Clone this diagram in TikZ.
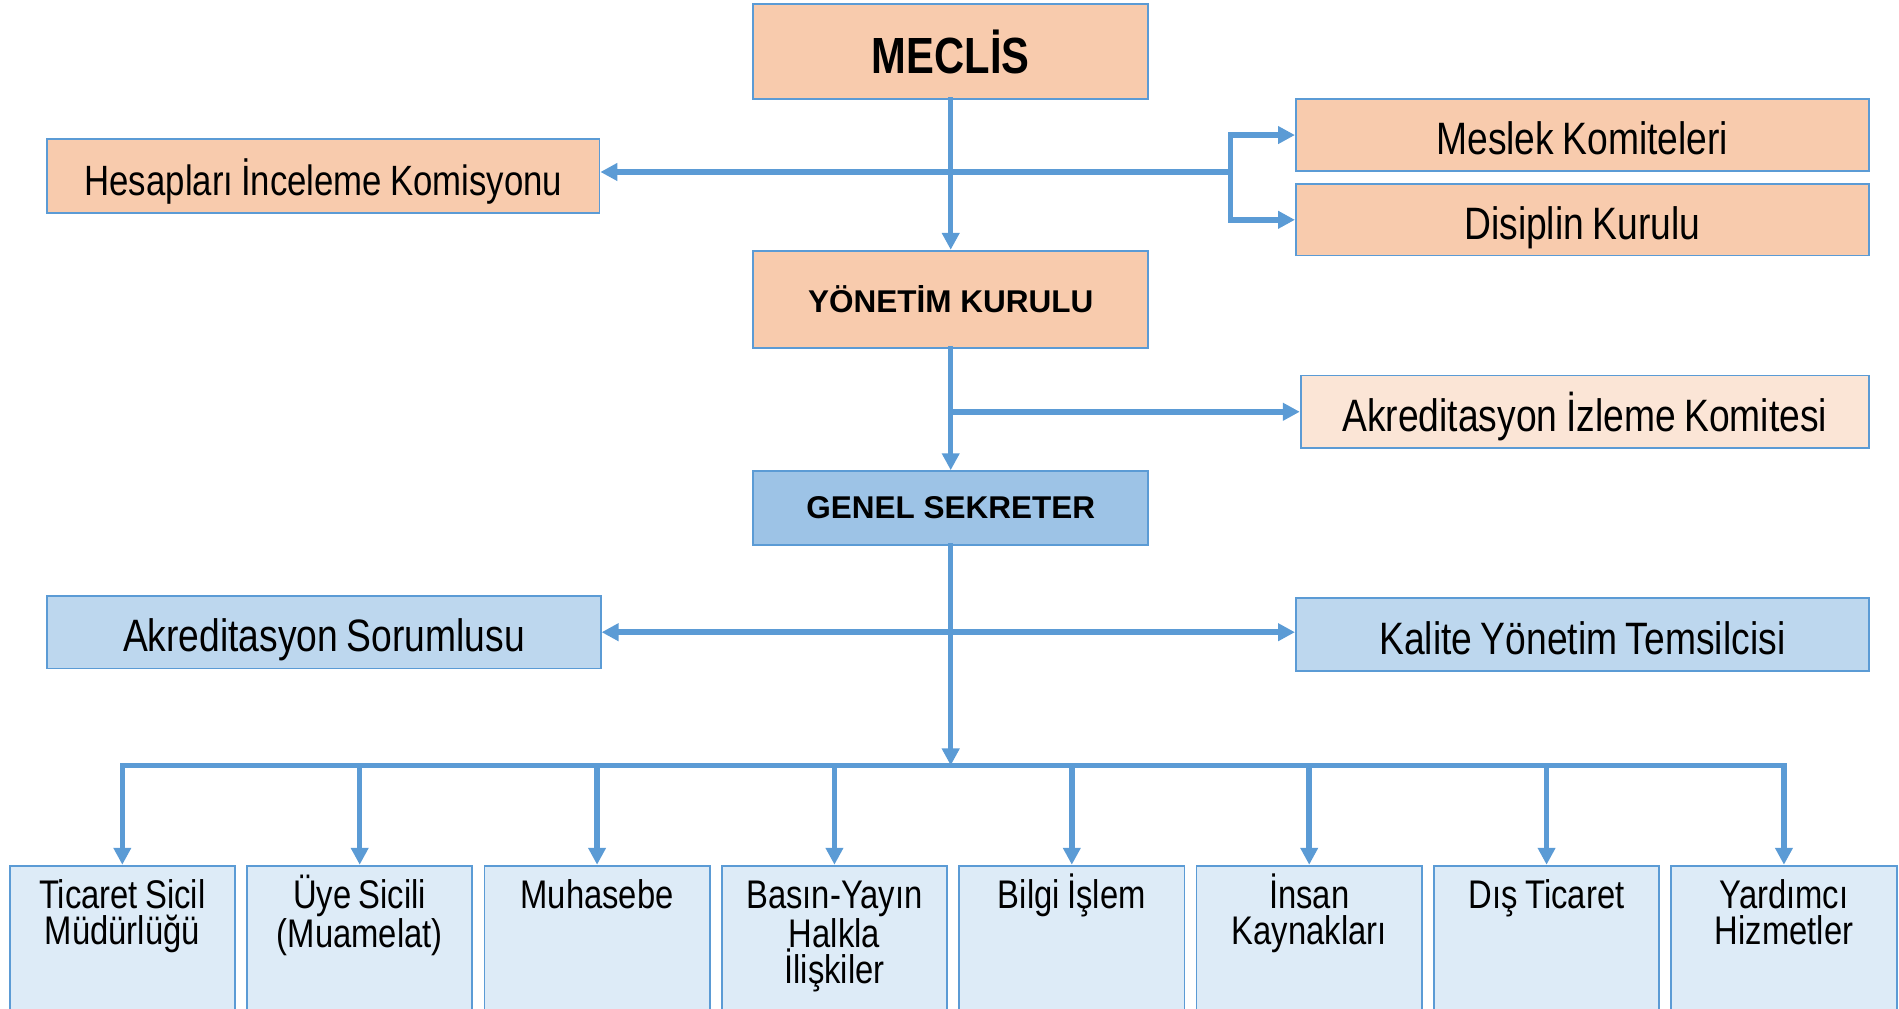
\documentclass[tikz,border=0pt]{standalone}
\usepackage{fontspec}
\setmainfont{Liberation Sans}
\newfontfamily\narrowfont{Liberation Sans}[FakeStretch=0.82, WordSpace=0.82]
\usepackage{tikz}
\usetikzlibrary{positioning, arrows.meta}
\definecolor{boxline}{HTML}{5B9BD5}
\definecolor{peach}{HTML}{F8CBAD}
\definecolor{lightpeach}{HTML}{FBE5D6}
\definecolor{midblue}{HTML}{9DC3E6}
\definecolor{paleblue}{HTML}{BDD7EE}
\definecolor{deptblue}{HTML}{DDEBF7}
\tikzset{box/.style={draw=boxline, line width=1.5pt, rectangle, inner sep=0pt},
  conn/.style={draw=boxline, line width=4.5pt, line cap=rect},
  arr/.style={conn, -{Triangle[length=14pt, width=14pt]}},
  sidebox/.style={box, text height=32pt, text depth=0pt, font=\narrowfont\fontsize{37.5pt}{40pt}\selectfont},
  deptbox/.style={box, fill=deptblue, anchor=north, minimum width=186pt, minimum height=140pt},
  depttext/.style={inner sep=0pt, text width=180pt, align=flush center, execute at begin node={\rule{0pt}{30pt}},
    font=\narrowfont\fontsize{33pt}{30pt}\selectfont}}

\begin{document}
\begin{tikzpicture}[x=1pt, y=-1pt]
  \useasboundingbox (0,0) rectangle (1568,833);
  \node [box, fill=peach, minimum width=326pt, minimum height=79pt, font=\narrowfont\bfseries\fontsize{42pt}{44pt}\selectfont] (meclis) at (785,42.5) {MECLİS};
  \node [sidebox, fill=peach, minimum width=456pt, minimum height=61pt, font=\narrowfont\fontsize{35pt}{38pt}\selectfont] (hesap) at (267,145.5) {Hesapları İnceleme Komisyonu};
  \node [sidebox, fill=peach, minimum width=473pt, minimum height=59pt] (meslek) at (1306.5,111.5) {Meslek Komiteleri};
  \node [sidebox, fill=peach, minimum width=473pt, minimum height=59pt] (disiplin) at (1306.5,181.5) {Disiplin Kurulu};
  \node [box, fill=peach, minimum width=326pt, minimum height=80pt, font=\bfseries\fontsize{26pt}{28pt}\selectfont] (yk) at (785,247) {YÖNETİM KURULU};
  \node [sidebox, fill=lightpeach, minimum width=469pt, minimum height=60pt] (akiz) at (1308.5,340) {Akreditasyon İzleme Komitesi};
  \node [box, fill=midblue, minimum width=326pt, minimum height=61pt, font=\bfseries\fontsize{26pt}{28pt}\selectfont] (gs) at (785,419.5) {GENEL SEKRETER};
  \node [sidebox, fill=paleblue, minimum width=457pt, minimum height=60pt] (asor) at (267.5,522) {Akreditasyon Sorumlusu};
  \node [sidebox, fill=paleblue, minimum width=473pt, minimum height=60pt] (kyt) at (1306.5,524) {Kalite Yönetim Temsilcisi};
  % departments
  \foreach \i/\txt in {1/{Ticaret Sicil\\Müdürlüğü}, 2/{Üye Sicili\\(Muamelat)}, 3/Muhasebe,
      4/{Basın-Yayın\\Halkla\\İlişkiler}, 5/{Bilgi İşlem}, 6/{İnsan\\Kaynakları},
      7/{Dış Ticaret}, 8/{Yardımcı\\Hizmetler}} {
    \node [deptbox] (d\i) at ({101+196*(\i-1)},714) {};
    \node [depttext, below=6pt of d\i.north] (t\i) {\txt};
  }
  % connectors
  \coordinate (fork) at (1016,142);
  \coordinate (bus) at (785,632);
  \draw [arr] (meclis.south) -- (yk.north);
  \draw [arr] (fork) -- (hesap.east |- fork);
  \draw [conn, {Triangle[length=14pt, width=14pt]}-{Triangle[length=14pt, width=14pt]}] (meslek.west) -| (fork) |- (disiplin.west);
  \draw [arr] (yk.south) -- (gs.north);
  \draw [arr] (yk.south |- akiz.west) -- (akiz.west);
  \draw [arr] (gs.south) -- (bus);
  \draw [conn, {Triangle[length=14pt, width=14pt]}-{Triangle[length=14pt, width=14pt]}] (asor.east) -- (kyt.west |- asor.east);
  \draw [conn] (d1.north |- bus) -- (d8.north |- bus);
  \foreach \i in {1,...,8} {
    \draw [arr] (d\i.north |- bus) -- (d\i.north);
  }
\end{tikzpicture}
\end{document}
